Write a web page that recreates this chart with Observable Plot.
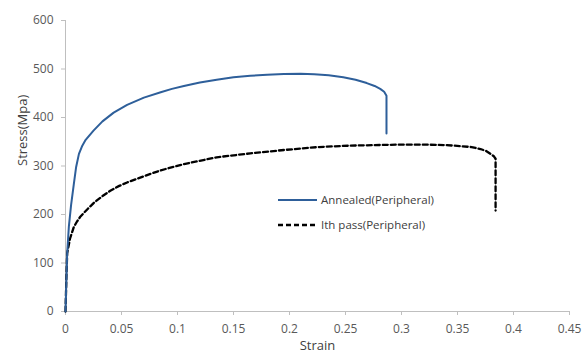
<!DOCTYPE html>
<html>
<head>
<meta charset="utf-8">
<script src="https://cdn.jsdelivr.net/npm/d3@7"></script>
<script src="https://cdn.jsdelivr.net/npm/@observablehq/plot@0.6"></script>
<style>
  html, body { margin: 0; padding: 0; background: #fff; }
  #wrap { position: relative; width: 587px; height: 356px; font-family: "Open Sans", sans-serif; }
  #legend { position: absolute; left: 278px; top: 188px; font-size: 11.5px; color: #404040; line-height: 24.5px; }
  #legend .row { display: flex; align-items: center; }
  #legend svg { margin-right: 4px; }
</style>
</head>
<body>
<div id="wrap"><div id="chart"></div>
  <div id="legend"></div>
</div>
<script>
const seriesNames = ["Annealed(Peripheral)", "Ith pass(Peripheral)"];
const seriesColors = ["#2E5F9A", "#000000"];

const annealedStrain = [0, 0.0008, 0.0015, 0.003, 0.005, 0.0074, 0.0095, 0.012, 0.015, 0.018, 0.025, 0.033, 0.043, 0.055, 0.07, 0.085, 0.095, 0.1057, 0.12, 0.135, 0.15, 0.165, 0.18, 0.195, 0.21, 0.222, 0.235, 0.248, 0.259, 0.269, 0.276, 0.281, 0.2845, 0.2866, 0.2866];
const annealedStress = [0, 65, 120, 175, 220, 262, 298, 325, 342, 354, 373, 392, 410, 426, 441, 452, 459, 465, 472, 478, 483, 486, 488, 489.5, 490, 489, 487, 483, 478, 471, 465, 459, 453, 445, 367];

const passStrain = [0, 0.0008, 0.0015, 0.004, 0.0074, 0.0104, 0.0134, 0.02, 0.0253, 0.033, 0.04, 0.048, 0.055, 0.07, 0.085, 0.1057, 0.135, 0.165, 0.195, 0.225, 0.254, 0.296, 0.323, 0.34, 0.3527, 0.3625, 0.3705, 0.3755, 0.3795, 0.3825, 0.384, 0.384];
const passStress = [0, 70, 120, 150, 174, 186, 196, 212, 224, 238, 249, 259, 266, 279, 291, 304, 318, 326, 333, 339, 342, 344, 344, 343, 341, 339, 335, 331, 325, 320, 315, 208];

const xTicks = [0, 0.05, 0.1, 0.15, 0.2, 0.25, 0.3, 0.35, 0.4, 0.45];
const yTicks = [0, 100, 200, 300, 400, 500, 600];

const annealed = annealedStrain.map((x, i) => ({x, y: annealedStress[i]}));
const pass = passStrain.map((x, i) => ({x, y: passStress[i]}));

const chart = Plot.plot({
  width: 587,
  height: 356,
  marginLeft: 65,
  marginRight: 18,
  marginTop: 20,
  marginBottom: 45,
  style: {fontFamily: "Open Sans, sans-serif", fontSize: "12px", color: "#595959", background: "#fff"},
  x: {domain: [0, 0.45], ticks: xTicks, tickFormat: d => String(d), label: null},
  y: {domain: [0, 600], ticks: yTicks, label: null},
  marks: [
    Plot.ruleY([0], {stroke: "#BFBFBF", strokeWidth: 1}),
    Plot.ruleX([0], {stroke: "#BFBFBF", strokeWidth: 1}),
    Plot.axisX({ticks: xTicks, tickFormat: d => String(d), tickSize: 4, tickPadding: 9, stroke: "#BFBFBF", color: "#595959", label: null}),
    Plot.axisY({ticks: yTicks, tickSize: 4, tickPadding: 8, stroke: "#BFBFBF", color: "#595959", label: null}),
    Plot.line(pass, {x: "x", y: "y", stroke: seriesColors[1], strokeWidth: 2.3, strokeDasharray: "5,3", strokeLinejoin: "round"}),
    Plot.line(annealed, {x: "x", y: "y", stroke: seriesColors[0], strokeWidth: 2, strokeLinejoin: "round"}),
    Plot.text(["Strain"], {frameAnchor: "bottom", dy: 38, fill: "#404040", fontSize: 13}),
    Plot.text(["Stress(Mpa)"], {frameAnchor: "left", dx: -43, rotate: -90, fill: "#404040", fontSize: 13})
  ]
});
document.getElementById("chart").appendChild(chart);

const legend = document.getElementById("legend");
seriesNames.forEach((name, i) => {
  const row = document.createElement("div");
  row.className = "row";
  const dash = i === 1 ? 'stroke-dasharray="5,3"' : '';
  row.innerHTML = `<svg width="39" height="6"><line x1="0" y1="3" x2="39" y2="3" stroke="${seriesColors[i]}" stroke-width="${i===1?2.3:2}" ${dash}/></svg><span>${name}</span>`;
  legend.appendChild(row);
});
</script>
</body>
</html>
